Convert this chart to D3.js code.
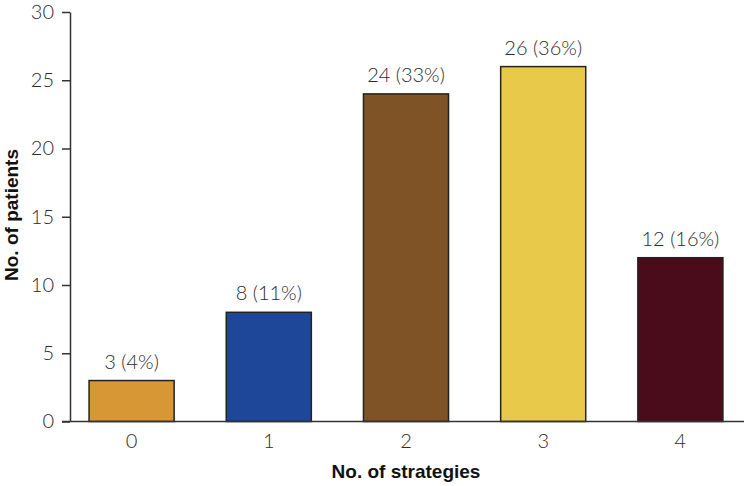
<!DOCTYPE html>
<html lang="en">
<head>
<meta charset="utf-8">
<title>No. of strategies</title>
<script src="https://cdn.jsdelivr.net/npm/d3@7"></script>
<style>
  body { margin: 0; background: #fff; }
  .tick text { font-family: Lato, "Open Sans", sans-serif; font-weight: 300; font-size: 20px; fill: #2b2b2b; }
  .bar_lbl { font-family: Lato, "Open Sans", sans-serif; font-weight: 300; font-size: 20px; fill: #2b2b2b; }
  .ax_title { font-family: "Liberation Sans", Arial, sans-serif; font-weight: bold; font-size: 19px; fill: #111; }
</style>
</head>
<body>
<div id="chart"></div>
<script>
// ---------- data ----------
var strategies = ['0', '1', '2', '3', '4'];
var patients = [3, 8, 24, 26, 12];
var pct = ['4%', '11%', '33%', '36%', '16%'];
var yTicks = [0, 5, 10, 15, 20, 25, 30];
var barColors = ['#d79734', '#1e4799', '#7f5326', '#e9c94a', '#4a0c1a'];

var width = 744, height = 486;

var svg = d3.select('#chart').append('svg')
    .attr('width', width)
    .attr('height', height);

var x = d3.scaleBand()
    .domain(strategies)
    .range([70, 742])
    .paddingInner(0.38)
    .paddingOuter(0.139);

var y = d3.scaleLinear()
    .domain([0, 30])
    .range([421.5, 12]);

// bars
svg.selectAll('rect.bar')
    .data(strategies)
    .enter().append('rect')
    .attr('class', 'bar')
    .attr('x', function(d) { return x(d); })
    .attr('y', function(d, i) { return y(patients[i]); })
    .attr('width', x.bandwidth())
    .attr('height', function(d, i) { return y(0) - y(patients[i]); })
    .attr('fill', function(d, i) { return barColors[i]; })
    .attr('stroke', '#222')
    .attr('stroke-width', 1.5);

// value labels
svg.selectAll('text.bar_lbl')
    .data(strategies)
    .enter().append('text')
    .attr('class', 'bar_lbl')
    .attr('x', function(d) { return x(d) + x.bandwidth() / 2; })
    .attr('y', function(d, i) { return y(patients[i]) - 12; })
    .attr('text-anchor', 'middle')
    .text(function(d, i) { return patients[i] + ' (' + pct[i] + ')'; });

// x axis
var gx = svg.append('g')
    .attr('transform', 'translate(0,' + y(0) + ')')
    .call(d3.axisBottom(x).tickSize(0).tickPadding(12));
gx.select('.domain').attr('d', 'M62,0H744').attr('stroke', '#333').attr('stroke-width', 1.5);
gx.selectAll('.tick text').attr('dy', '0.71em');

// y axis
var gy = svg.append('g')
    .attr('transform', 'translate(70,0)')
    .call(d3.axisLeft(y).tickValues(yTicks).tickSize(8).tickSizeOuter(0).tickPadding(8));
gy.select('.domain').attr('stroke', '#333').attr('stroke-width', 1.5);
gy.selectAll('.tick line').attr('stroke', '#333').attr('stroke-width', 1.5);

// axis titles
svg.append('text')
    .attr('class', 'ax_title')
    .attr('x', 406)
    .attr('y', 478)
    .attr('text-anchor', 'middle')
    .text('No. of strategies');

svg.append('text')
    .attr('class', 'ax_title')
    .attr('transform', 'translate(18,215) rotate(-90)')
    .attr('text-anchor', 'middle')
    .text('No. of patients');
</script>
</body>
</html>
